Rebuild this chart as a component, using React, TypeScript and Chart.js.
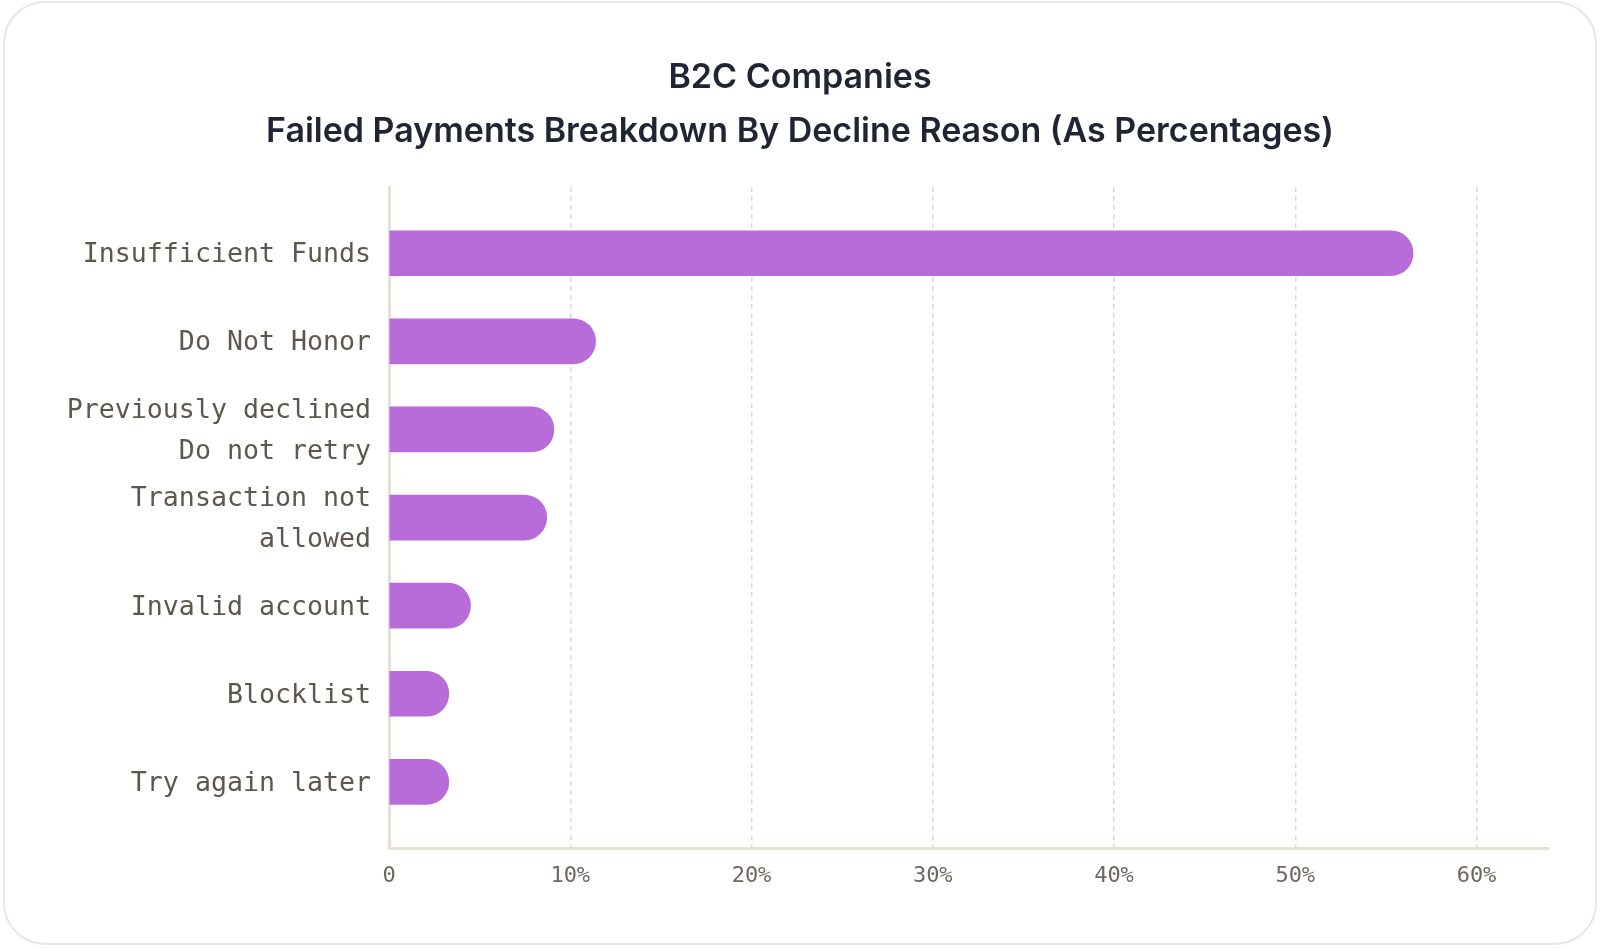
import React, { useEffect, useRef } from "react";
import { Chart, registerables } from "chart.js";

Chart.register(...registerables);

const titleLines = ["B2C Companies", "Failed Payments Breakdown By Decline Reason (As Percentages)"];
const categories: (string | string[])[] = [
  "Insufficient Funds",
  "Do Not Honor",
  ["Previously declined", "Do not retry"],
  ["Transaction not", "allowed"],
  "Invalid account",
  "Blocklist",
  "Try again later",
];
const values = [56.5, 11.4, 9.1, 8.7, 4.5, 3.3, 3.3];
const xTickStep = 10;
const xMax = 64;

export default function App() {
  const canvasRef = useRef<HTMLCanvasElement | null>(null);

  useEffect(() => {
    if (!canvasRef.current) return;
    const points = values.map((v, i) => ({ x: v, y: i }));
    const chart = new Chart(canvasRef.current, {
      type: "bar",
      data: {
        datasets: [
          {
            data: points as any,
            backgroundColor: "#b86cd9",
            borderWidth: 0,
            borderRadius: 23,
            barThickness: 45,
          },
        ],
      },
      options: {
        animation: false,
        responsive: false,
        indexAxis: "y",
        layout: { padding: { left: 51, right: 51, top: 0, bottom: 41 } },
        plugins: {
          legend: { display: false },
          tooltip: { enabled: false },
          title: {
            display: true,
            text: titleLines,
            color: "#1f2533",
            font: { family: "Inter", size: 34, weight: 600, lineHeight: 1.59 },
            padding: { top: 51, bottom: 28 },
          },
        },
        scales: {
          x: {
            type: "linear",
            min: 0,
            max: xMax,
            afterFit: (scale: any) => {
              scale.height = 60;
            },
            ticks: {
              stepSize: xTickStep,
              padding: 15,
              color: "#6f675f",
              font: { family: "DejaVu Sans Mono", size: 22 },
              callback: (v: any) => {
                const n = Number(v);
                if (n % xTickStep !== 0) return "";
                return n === 0 ? "0" : n + "%";
              },
            },
            grid: {
              drawTicks: false,
              lineWidth: 1.5,
              color: (ctx: any) => {
                const v = ctx.tick ? ctx.tick.value : 0;
                return v !== 0 && v % xTickStep === 0 ? "#d9d9d9" : "rgba(0,0,0,0)";
              },
            },
            border: { display: true, color: "#eadfd4", width: 3, dash: [5, 4] },
          },
          y: {
            type: "linear",
            offset: false,
            reverse: true,
            min: -0.75,
            max: categories.length - 0.25,
            afterFit: (scale: any) => {
              scale.width = 338;
            },
            ticks: {
              stepSize: 1,
              autoSkip: false,
              padding: 18,
              labelOffset: 2,
              color: "#5f574f",
              font: { family: "DejaVu Sans Mono", size: 26.6, lineHeight: 1.54 },
              callback: (v: any) => {
                const n = Number(v);
                return Number.isInteger(n) && categories[n] !== undefined ? (categories[n] as any) : "";
              },
            },
            grid: { drawTicks: false, offset: false, color: "rgba(0,0,0,0)" },
            border: { display: true, color: "#eadfd4", width: 3 },
          },
        },
      },
    });
    return () => chart.destroy();
  }, []);

  return (
    <div style={{ position: "fixed", left: 0, top: 0, width: 1600, height: 949, background: "#ffffff" }}>
      <div
        style={{
          position: "absolute",
          left: 3,
          top: 1,
          width: 1594,
          height: 944,
          border: "2px solid #e7e7e7",
          borderRadius: 42,
          boxSizing: "border-box",
          background: "#ffffff",
        }}
      />
      <canvas
        ref={canvasRef}
        width={1600}
        height={949}
        style={{ position: "absolute", left: 0, top: 0, width: 1600, height: 949 }}
      />
    </div>
  );
}
